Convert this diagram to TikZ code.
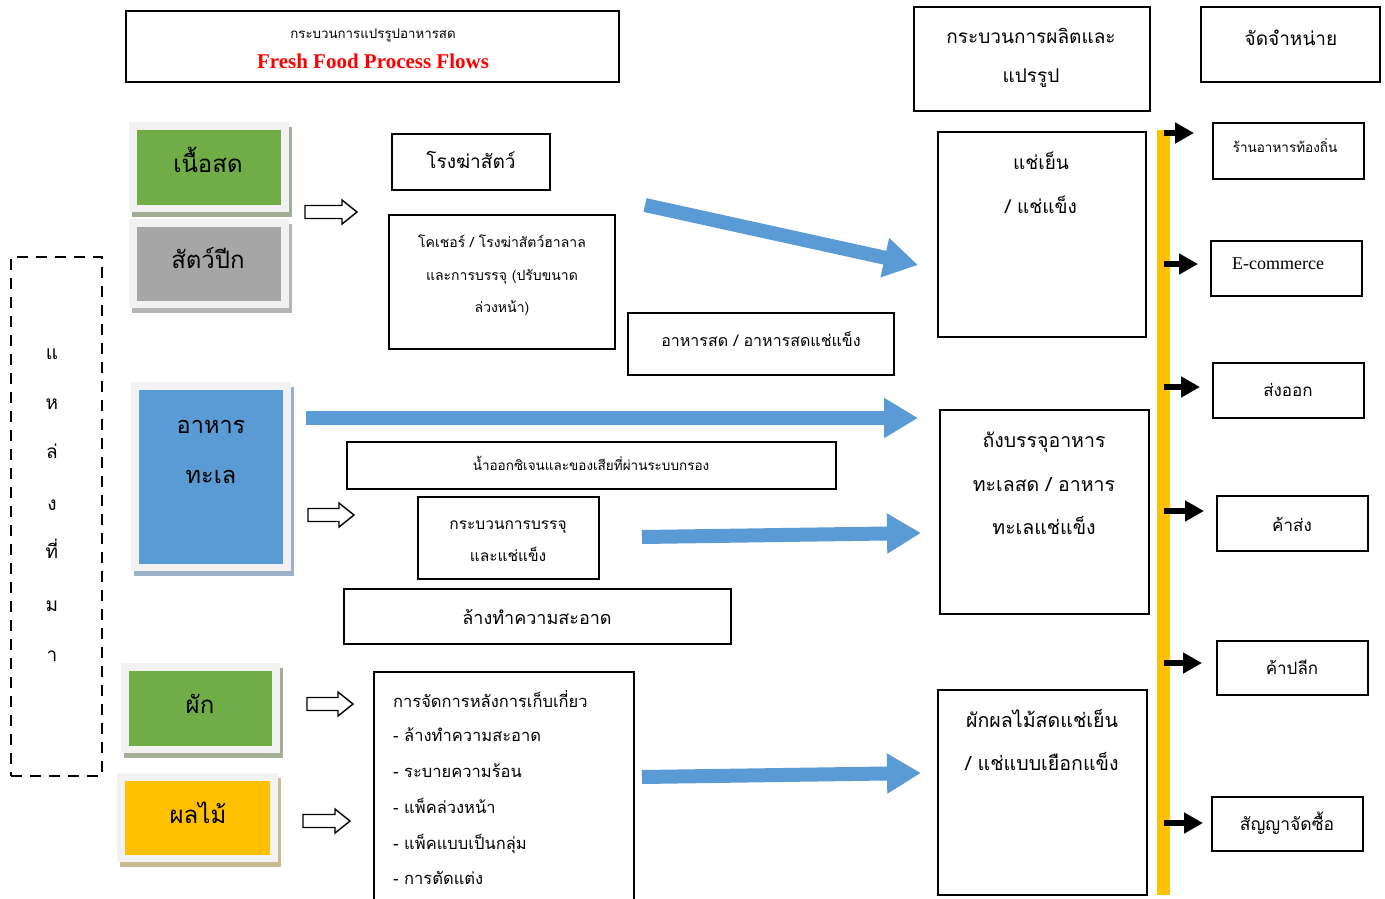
\documentclass[tikz,border=0pt]{standalone}
\usepackage{fontspec}
\setmainfont{Liberation Serif}
\newfontfamily\thai[Script=Thai]{Loma}
\usetikzlibrary{arrows.meta,fit}
\newcommand\tsz[1]{\fontsize{#1}{#1}\selectfont}
\definecolor{cgreen}{HTML}{70AD47}
\definecolor{cgray}{HTML}{A6A6A6}
\definecolor{cblue}{HTML}{5B9BD5}
\definecolor{cyellow}{HTML}{FFC000}
\definecolor{cframe}{HTML}{F2F2F2}
\definecolor{cred}{HTML}{FF0000}
\definecolor{shgreen}{HTML}{A3AE96}
\definecolor{shgray}{HTML}{B4B4B4}
\definecolor{shblue}{HTML}{9DB2C9}
\definecolor{shtan}{HTML}{C9BC92}
\tikzset{
  box/.style={draw=black, line width=1.4pt, inner sep=0pt, fill=white},
  tx/.style={inner sep=0pt, text height=0pt, text depth=0pt, font=\thai\tsz{#1}},
  tx/.default=17,
  frame/.style={fill=cframe, draw=none, inner sep=0pt},
  shadow/.style={draw=none, inner sep=0pt},
  inner/.style={draw=none, inner sep=0pt},
  hollow/.style={draw=black, line width=1.4pt, fill=white, line join=miter},
  bluearrow/.style={draw=cblue, line width=14pt, -{Triangle[length=34pt,width=38pt]}},
  blackarrow/.style={draw=black, line width=6.5pt, -{Triangle[length=19pt,width=20pt]}},
}
\newcommand\srcbox[7]{%
  \node[shadow, fill=#7, fit={(#2+3,#3+5)(#4+3,#5+5)}] (#1sh) {};
  \node[frame, fit={(#2,#3)(#4,#5)}] (#1fr) {};
  \node[inner, fill=#6, fit={(#2+8,#3+8)(#4-8,#5-7)}] (#1) {};}
\newcommand\hollowarrow[3]{%
  \draw[hollow] (#1,#3-6.5) -- (#2-15,#3-6.5) -- (#2-15,#3-12) -- (#2,#3)
    -- (#2-15,#3+12) -- (#2-15,#3+6.5) -- (#1,#3+6.5) -- cycle;}
\begin{document}
\begin{tikzpicture}[x=1pt,y=-1pt]
\useasboundingbox (0,0) rectangle (1385,898);
\fill[white] (0,0) rectangle (1385,898);
\begin{scope}
\clip (0,0) rectangle (1385,898);
% title
\node[box, line width=2pt, fit={(126,11)(619,82)}] (title) {};
\node[tx=13.3] (titleth) at (373,38) {กระบวนการแปรรูปอาหารสด};
\node[inner sep=0pt, font=\bfseries\tsz{21}, text=cred] (titleen) at (373,61) {Fresh Food Process Flows};
% headers
\node[box, fit={(914,7)(1150,111)}] (hprod) {};
\node[tx=19] (hprod1) at (1031,43) {กระบวนการผลิตและ};
\node[tx=19] (hprod2) at (1031,82) {แปรรูป};
\node[box, fit={(1201,7)(1380,82)}] (hdist) {};
\node[tx=19] (hdist1) at (1291,45) {จัดจำหน่าย};
% source boxes
\srcbox{meat}{129}{122}{289}{212}{cgreen}{shgreen}
\node[tx=24] (meatt) at (208,172) {เนื้อสด};
\srcbox{poultry}{129}{219}{289}{308}{cgray}{shgray}
\node[tx=24] (poultryt) at (208,268) {สัตว์ปีก};
\srcbox{sea}{131}{382}{291}{571}{cblue}{shblue}
\node[tx=23.5] (seat1) at (211,433) {อาหาร};
\node[tx=23.5] (seat2) at (211,483) {ทะเล};
\srcbox{veg}{121}{663}{280}{753}{cgreen}{shgreen}
\node[tx=24] (vegt) at (200,713) {ผัก};
\srcbox{fruit}{117}{773}{278}{862}{cyellow}{shtan}
\node[tx=24] (fruitt) at (198,823) {ผลไม้};
% dashed source frame
\node[draw=black, line width=2pt, dash pattern=on 11pt off 8pt, inner sep=0pt, fit={(11,257)(102,776)}] (src) {};
\node[tx=19] (s1) at (52,359) {แ};
\node[tx=19] (s2) at (52,409) {ห};
\node[tx=19] (s3) at (52,458) {ล่};
\node[tx=19] (s4) at (52,510) {ง};
\node[tx=19] (s5) at (52,558) {ที่};
\node[tx=19] (s6) at (52,611) {ม};
\node[tx=19] (s7) at (52,661) {า};
% hollow arrows
\hollowarrow{305}{357}{212}
\hollowarrow{308}{354}{515}
\hollowarrow{307}{353}{704}
\hollowarrow{303}{350}{821}
% middle boxes
\node[box, fit={(392,134)(550,190)}] (slaughter) {};
\node[tx=19] (slaughtert) at (471,168) {โรงฆ่าสัตว์};
\node[box, fit={(389,215)(615,349)}] (kosher) {};
\node[tx=14] (kosher1) at (502,247) {โคเชอร์ / โรงฆ่าสัตว์ฮาลาล};
\node[tx=14] (kosher2) at (502,280) {และการบรรจุ (ปรับขนาด};
\node[tx=14] (kosher3) at (502,312) {ล่วงหน้า)};
\node[box, fit={(628,313)(894,375)}] (fresh) {};
\node[tx=16] (fresht) at (761,346) {อาหารสด / อาหารสดแช่แข็ง};
\node[box, fit={(347,442)(836,489)}] (oxy) {};
\node[tx=13.5] (oxyt) at (591,470) {น้ำออกซิเจนและของเสียที่ผ่านระบบกรอง};
\node[box, fit={(418,497)(599,579)}] (pack) {};
\node[tx=15.5] (pack1) at (508,529) {กระบวนการบรรจุ};
\node[tx=15.5] (pack2) at (508,561) {และแช่แข็ง};
\node[box, fit={(344,589)(731,644)}] (wash) {};
\node[tx=18] (washt) at (537,624) {ล้างทำความสะอาด};
\node[box, fit={(374,672)(634,910)}] (post) {};
\node[tx=16.5, anchor=west] (post1) at (393,707) {การจัดการหลังการเก็บเกี่ยว};
\node[tx=16.5, anchor=west] (post2) at (393,741) {- ล้างทำความสะอาด};
\node[tx=16.5, anchor=west] (post3) at (393,777) {- ระบายความร้อน};
\node[tx=16.5, anchor=west] (post4) at (393,813) {- แพ็คล่วงหน้า};
\node[tx=16.5, anchor=west] (post5) at (393,849) {- แพ็คแบบเป็นกลุ่ม};
\node[tx=16.5, anchor=west] (post6) at (393,884) {- การตัดแต่ง};
% process boxes
\node[box, fit={(938,132)(1146,337)}] (chill) {};
\node[tx=19] (chill1) at (1041,169) {แช่เย็น};
\node[tx=19] (chill2) at (1041,213) {/ แช่แข็ง};
\node[box, fit={(940,410)(1149,614)}] (seabox) {};
\node[tx=19.5] (seabox1) at (1044,447) {ถังบรรจุอาหาร};
\node[tx=19.5] (seabox2) at (1044,491) {ทะเลสด / อาหาร};
\node[tx=19.5] (seabox3) at (1044,534) {ทะเลแช่แข็ง};
\node[box, fit={(938,690)(1147,895)}] (fvbox) {};
\node[tx=19.6] (fvbox1) at (1042,727) {ผักผลไม้สดแช่เย็น};
\node[tx=19.6] (fvbox2) at (1042,770) {/ แช่แบบเยือกแข็ง};
% blue arrows
\coordinate (b1s) at (645,205); \coordinate (b1e) at (918,265);
\coordinate (b2s) at (306,418); \coordinate (b2e) at (918,418);
\coordinate (b3s) at (642,537); \coordinate (b3e) at (921,533);
\coordinate (b4s) at (642,777); \coordinate (b4e) at (921,773);
\draw[bluearrow] (b1s) -- (b1e);
\draw[bluearrow] (b2s) -- (b2e);
\draw[bluearrow] (b3s) -- (b3e);
\draw[bluearrow] (b4s) -- (b4e);
% yellow bar
\node[inner sep=0pt, fill=cyellow, fit={(1157,130)(1170,895)}] (bar) {};
% distribution boxes
\node[box, fit={(1213,123)(1364,179)}] (local) {};
\node[tx=13.5] (localt) at (1285,152) {ร้านอาหารท้องถิ่น};
\node[box, fit={(1211,241)(1362,296)}] (ecom) {};
\node[inner sep=0pt, font=\tsz{18}] (ecomt) at (1278,264) {E-commerce};
\node[box, fit={(1213,363)(1364,418)}] (export) {};
\node[tx=17] (exportt) at (1288,396) {ส่งออก};
\node[box, fit={(1217,496)(1368,551)}] (whole) {};
\node[tx=17] (wholet) at (1292,531) {ค้าส่ง};
\node[box, fit={(1217,641)(1368,695)}] (retail) {};
\node[tx=17] (retailt) at (1292,674) {ค้าปลีก};
\node[box, fit={(1212,797)(1363,851)}] (contract) {};
\node[tx=17.5] (contractt) at (1287,830) {สัญญาจัดซื้อ};
% black arrows
\coordinate (k1) at (1194,133); \coordinate (k2) at (1198,264);
\coordinate (k3) at (1200,387); \coordinate (k4) at (1204,511);
\coordinate (k5) at (1202,663); \coordinate (k6) at (1203,823);
\draw[blackarrow] (1164,133) -- (k1);
\draw[blackarrow] (1164,264) -- (k2);
\draw[blackarrow] (1164,387) -- (k3);
\draw[blackarrow] (1164,511) -- (k4);
\draw[blackarrow] (1164,663) -- (k5);
\draw[blackarrow] (1164,823) -- (k6);
\end{scope}
\end{tikzpicture}
\end{document}
